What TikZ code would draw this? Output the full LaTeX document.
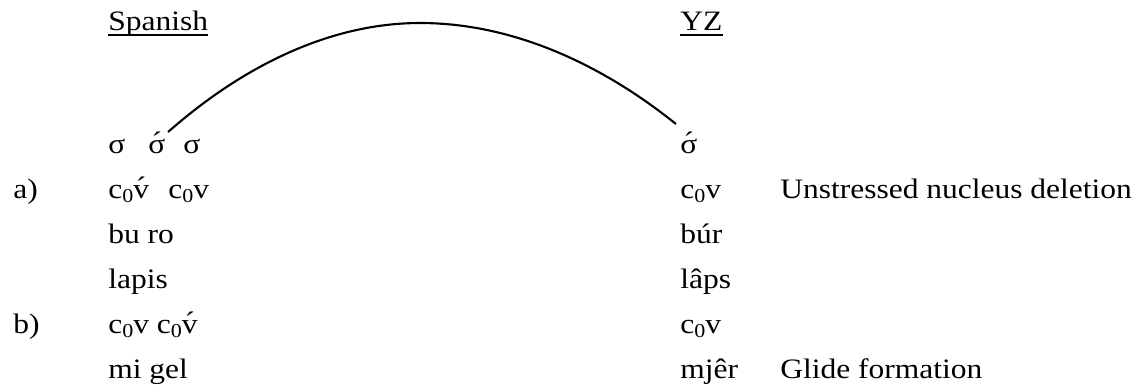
\documentclass[tikz,border=0pt]{standalone}
\usepackage{fontspec}
\setmainfont[FakeStretch=1.12]{Liberation Serif}
\newcommand{\nul}{\raisebox{-0.35ex}{\fontsize{14}{14}\selectfont 0}}
\newcommand{\stress}[1]{\ooalign{#1\cr\hidewidth\raisebox{0.15ex}{´}\hidewidth\cr}}
\newcommand{\cv}{c\nul v}
\newcommand{\cvs}{c\nul\stress{v}}
\begin{document}
\begin{tikzpicture}[x=0.025cm, y=-0.025cm,
    every node/.style={inner sep=0pt, anchor=base west, font=\fontsize{20}{24}\selectfont},
    uline/.style={line width=0.9pt}]
    \useasboundingbox (0,0) rectangle (1137,389);
    % 1. Tiêu đề hai cột
    \node (sp) at (108,30) {Spanish};
    \node (yz) at (680,30) {YZ};
    \draw[uline] ([yshift=-3.5pt]sp.base west) -- ([yshift=-3.5pt]sp.base east);
    \draw[uline] ([yshift=-3.5pt]yz.base west) -- ([yshift=-3.5pt]yz.base east);

    % 2. Hàng âm tiết
    \node (s1) at (108,153) {σ};
    \node (s2) at (148,153) {\stress{σ}};
    \node (s3) at (183,153) {σ};
    \node (z0) at (680,153) {\stress{σ}};

    % 3. Cung nối
    \coordinate (arcL) at (168,132);
    \coordinate (top) at (420,23);
    \coordinate (arcR) at (676,124);
    \draw[line width=1.5pt] (arcL) parabola bend (top) (arcR);

    % 4. Trường hợp a)
    \node (la) at (13,198) {a)};
    \node (c1) at (108,198) {\cvs};
    \node (c2) at (168,198) {\cv};
    \node (zc1) at (680,198) {\cv};
    \node (del) at (780,198) {Unstressed nucleus deletion};
    \node (br) at (108,243) {bu ro};
    \node (zbr) at (680,243) {búr};
    \node (lp) at (108,288) {lapis};
    \node (zlp) at (680,288) {lâps};

    % 5. Trường hợp b)
    \node (lb) at (13,333) {b)};
    \node (c3) at (108,333) {\cv{} \cvs};
    \node (zc2) at (680,333) {\cv};
    \node (mg) at (108,378) {mi gel};
    \node (zmg) at (680,378) {mjêr};
    \node (gl) at (780,378) {Glide formation};
\end{tikzpicture}
\end{document}
